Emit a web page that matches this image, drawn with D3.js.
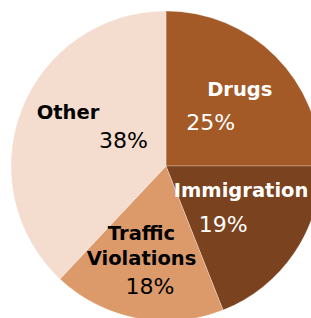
<!DOCTYPE html>
<html>
<head>
<meta charset="utf-8">
<script src="https://cdn.jsdelivr.net/npm/d3@7"></script>
<style>
  body { margin: 0; background: #fff; }
  svg { display: block; }
</style>
</head>
<body>
<div id="chart"></div>
<script>
var width = 311;
var height = 318;

// data
var categories = ["Drugs", "Immigration", "Traffic Violations", "Other"];
var shares = [25, 19, 18, 38];
var colors = ["#a35a27", "#7a421e", "#dc9a6a", "#f4ddcf"];

var cx = 166, cy = 166, radius = 155;

var svg = d3.select("#chart")
    .append("svg")
    .attr("width", width)
    .attr("height", height);

var g = svg.append("g")
    .attr("transform", "translate(" + cx + "," + cy + ")");

var pie = d3.pie().sort(null).value(function(d){ return d.value; });
var arc = d3.arc().innerRadius(0).outerRadius(radius);

var data = categories.map(function(c, i){
    return {name: c, value: shares[i], color: colors[i]};
});
var arcs = pie(data);

g.selectAll(".slice")
    .data(arcs)
    .enter().append("path")
    .attr("class", "slice")
    .attr("d", arc)
    .attr("fill", function(d){ return d.data.color; })
    .attr("stroke", "rgba(255,255,255,0.35)")
    .attr("stroke-width", 0.8);

// label placement, offsets from each slice centroid
var nameStyle = {
    "Drugs":              {lines: ["Drugs"], dx: 19, dy: [-15.5], fill: "#fff", pdx: -10, pdy: 19},
    "Immigration":        {lines: ["Immigration"], dx: 11, dy: [-12.5], fill: "#fff", pdx: -7, pdy: 22.5},
    "Traffic Violations": {lines: ["Traffic", "Violations"], dx: -10, dy: [-2, 23], fill: "#000", pdx: -1.5, pdy: 52},
    "Other":              {lines: ["Other"], dx: -26, dy: [-18.5], fill: "#000", pdx: 29.5, pdy: 10.5}
};

var labels = g.selectAll(".label")
    .data(arcs)
    .enter().append("g")
    .attr("class", "label");

labels.each(function(d){
    var c = arc.centroid(d);
    var s = nameStyle[d.data.name];
    var el = d3.select(this);
    s.lines.forEach(function(line, k){
        el.append("text")
            .attr("x", c[0] + s.dx)
            .attr("y", c[1] + s.dy[k])
            .attr("text-anchor", "middle")
            .attr("font-family", "Verdana, 'DejaVu Sans', sans-serif")
            .attr("font-weight", "bold")
            .attr("font-size", 19.5)
            .attr("fill", s.fill)
            .text(line);
    });
    el.append("text")
        .attr("x", c[0] + s.pdx)
        .attr("y", c[1] + s.pdy)
        .attr("text-anchor", "middle")
        .attr("font-family", "Verdana, 'DejaVu Sans', sans-serif")
        .attr("font-size", 22)
        .attr("fill", s.fill)
        .text(d.data.value + "%");
});
</script>
</body>
</html>
